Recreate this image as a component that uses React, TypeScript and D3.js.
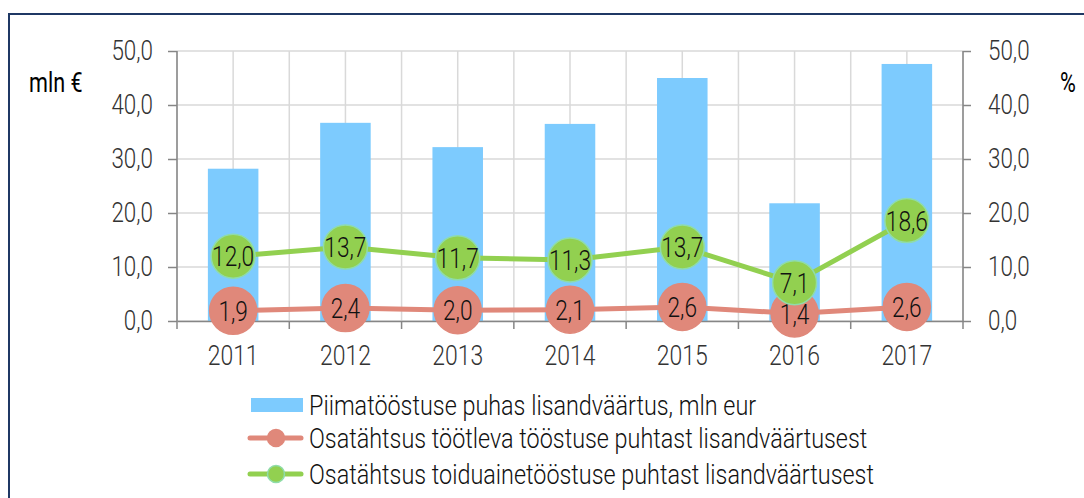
import React, { useRef, useEffect } from 'react';
import * as d3 from 'd3';

const years = ['2011', '2012', '2013', '2014', '2015', '2016', '2017'];
const dairyValueAdded = [28.2, 36.7, 32.2, 36.5, 45.0, 21.8, 47.6];
const shareManufacturing = [1.9, 2.4, 2.0, 2.1, 2.6, 1.4, 2.6];
const shareFood = [12.0, 13.7, 11.7, 11.3, 13.7, 7.1, 18.6];
const yTicks = [0, 10, 20, 30, 40, 50];
const legendLabels = [
  'Piimatööstuse puhas lisandväärtus, mln eur',
  'Osatähtsus töötleva tööstuse puhtast lisandväärtusest',
  'Osatähtsus toiduainetööstuse puhtast lisandväärtusest',
];

const W = 1084;
const H = 498;
const FONT = 'Roboto, sans-serif';

// squeeze text horizontally (fake condensed face) while keeping its anchor x in place
const condense = (sx: number) => (sel: d3.Selection<any, any, any, any>) => {
  sel.each(function () {
    const t = d3.select(this as SVGTextElement);
    const xv = +(t.attr('x') || 0);
    t.attr('x', xv / sx).attr('transform', `scale(${sx},1)`);
  });
};

const App: React.FC = () => {
  const svgRef = useRef<SVGSVGElement | null>(null);

  useEffect(() => {
    const svg = d3.select(svgRef.current);
    svg.selectAll('*').remove();

    const margin = { left: 177, right: W - 963, top: 51, bottom: H - 321 };
    const x = d3.scaleBand().domain(years).range([margin.left, W - margin.right]);
    const y = d3.scaleLinear().domain([0, 50]).range([H - margin.bottom, margin.top]);
    const yR = d3.scaleLinear().domain([0, 50]).range([H - margin.bottom, margin.top]);
    const cx = (d: string) => x(d)! + x.bandwidth() / 2;
    const fmt = (v: number) => d3.format('.1f')(v).replace('.', ',');

    // outer frame
    svg.append('rect')
      .attr('x', 9).attr('y', 14)
      .attr('width', W + 20).attr('height', H + 20)
      .attr('fill', 'none').attr('stroke', '#1f3864').attr('stroke-width', 2);

    // grid
    const grid = svg.append('g');
    grid.selectAll('.hg').data(yTicks).enter().append('line')
      .attr('x1', margin.left).attr('x2', W - margin.right)
      .attr('y1', d => y(d)).attr('y2', d => y(d))
      .attr('stroke', '#d9d9d9').attr('stroke-width', 1.5);
    const vx: number[] = [];
    years.forEach(yr => { vx.push(x(yr)!); vx.push(cx(yr)); });
    vx.push(W - margin.right);
    grid.selectAll('.vg').data(vx).enter().append('line')
      .attr('x1', d => d).attr('x2', d => d)
      .attr('y1', y(50)).attr('y2', y(0))
      .attr('stroke', '#d9d9d9').attr('stroke-width', 1.5);

    // bars
    const bw = x.bandwidth() * 0.45;
    svg.selectAll('.bar').data(dairyValueAdded).enter().append('rect')
      .attr('x', (_, i) => cx(years[i]) - bw / 2)
      .attr('y', d => y(d))
      .attr('width', bw)
      .attr('height', d => y(0) - y(d))
      .attr('fill', '#7dcbfe');

    // axes
    const axisColor = '#868686';
    const left = svg.append('g').attr('transform', `translate(${margin.left},0)`)
      .call(d3.axisLeft(y).tickValues(yTicks).tickSize(9).tickPadding(15).tickFormat(d => fmt(d as number)));
    const right = svg.append('g').attr('transform', `translate(${W - margin.right},0)`)
      .call(d3.axisRight(yR).tickValues(yTicks).tickSize(8).tickPadding(17).tickFormat(d => fmt(d as number)));
    const bottom = svg.append('g').attr('transform', `translate(0,${y(0)})`)
      .call(d3.axisBottom(x).tickSize(0).tickPadding(24));
    bottom.selectAll('.bt').data([...years.map(yr => x(yr)!), W - margin.right]).enter()
      .append('line')
      .attr('x1', d => d).attr('x2', d => d).attr('y1', 0).attr('y2', 8)
      .attr('stroke', axisColor).attr('stroke-width', 1.5);
    [left, right, bottom].forEach(g => {
      g.select('.domain').attr('stroke', axisColor).attr('stroke-width', 1.5);
      g.selectAll('.tick line').attr('stroke', axisColor).attr('stroke-width', 1.5);
      g.selectAll('.tick text').attr('fill', '#333')
        .style('font-family', FONT).style('font-size', '28px').style('font-weight', 300);
    });
    left.select('.domain').attr('d', `M0,${y(0)}V${y(50)}`);
    right.select('.domain').attr('d', `M0,${y(0)}V${y(50)}`);
    [left, right].forEach(g => g.selectAll('.tick text').call(condense(0.8)));
    // move the band offset from the tick g onto the text so the squeeze keeps it centred
    bottom.selectAll('.tick').each(function () {
      const t = d3.select(this as SVGGElement);
      const m = /translate\(([^,]+),/.exec(t.attr('transform') || '');
      if (m) {
        t.attr('transform', 'translate(0,0)');
        t.select('text').attr('x', +m[1]).call(condense(0.82));
      }
    });

    // axis titles
    svg.append('text').attr('x', 29).attr('y', 92).text('mln €')
      .style('font-family', FONT).style('font-size', '27px').attr('fill', '#000').call(condense(0.8));
    svg.append('text').attr('x', 1060).attr('y', 92).text('%')
      .style('font-family', FONT).style('font-size', '27px').attr('fill', '#000').call(condense(0.8));

    // lines
    const series = [
      { values: shareManufacturing, color: '#e0887a', stroke: '#e0887a', r: 23.5 },
      { values: shareFood, color: '#92d050', stroke: '#8fdcaa', r: 22 },
    ];
    const line = d3.line<number>().x((_, i) => cx(years[i])).y(d => yR(d));
    series.forEach(s => {
      svg.append('path').datum(s.values)
        .attr('d', line).attr('fill', 'none')
        .attr('stroke', s.color).attr('stroke-width', 5);
      const g = svg.append('g');
      g.selectAll('circle').data(s.values).enter().append('circle')
        .attr('cx', (_, i) => cx(years[i])).attr('cy', d => yR(d))
        .attr('r', s.r).attr('fill', s.color).attr('stroke', s.stroke).attr('stroke-width', 1.5);
      g.selectAll('text').data(s.values).enter().append('text')
        .attr('x', (_, i) => cx(years[i])).attr('y', d => yR(d))
        .attr('dy', '0.36em').attr('text-anchor', 'middle')
        .text(d => fmt(d))
        .style('font-family', FONT).style('font-size', '28px').style('font-weight', 300)
        .attr('fill', '#111').call(condense(0.81));
    });

    // legend
    const lg = svg.append('g');
    const ly = [405, 438, 474];
    lg.append('rect').attr('x', 251).attr('y', ly[0] - 7).attr('width', 52).attr('height', 14)
      .attr('fill', '#7dcbfe');
    series.forEach((s, i) => {
      lg.append('line').attr('x1', 250).attr('x2', 301).attr('y1', ly[i + 1]).attr('y2', ly[i + 1])
        .attr('stroke', s.color).attr('stroke-width', 5).attr('stroke-linecap', 'round');
      lg.append('circle').attr('cx', 276).attr('cy', ly[i + 1]).attr('r', 8.5)
        .attr('fill', s.color).attr('stroke', s.stroke).attr('stroke-width', 1.5);
    });
    lg.selectAll('.lt').data(legendLabels).enter().append('text')
      .attr('x', 309).attr('y', (_, i) => ly[i]).attr('dy', '0.36em')
      .text(d => d)
      .style('font-family', FONT).style('font-size', '28px').style('font-weight', 300)
      .attr('fill', '#111').call(condense(0.835));
  }, []);

  return (
    <svg ref={svgRef} width={W} height={H}
      style={{ position: 'absolute', left: 0, top: 0, background: '#fff' }} />
  );
};

export default App;
